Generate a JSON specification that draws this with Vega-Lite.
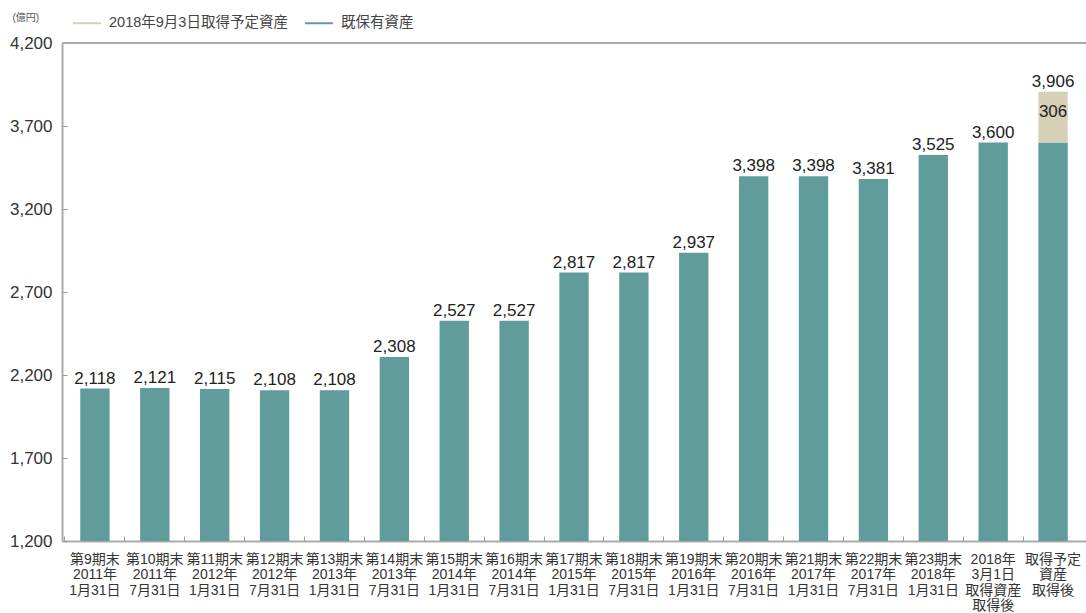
{
  "$schema": "https://vega.github.io/schema/vega-lite/v6.json",
  "width": 1024,
  "height": 498,
  "autosize": {"type": "none"},
  "padding": {"left": 62, "top": 43, "right": 0, "bottom": 72},
  "background": "white",
  "config": {
    "view": {"stroke": null},
    "font": "Liberation Sans, Noto Sans CJK JP",
    "text": {"font": "Liberation Sans, Noto Sans CJK JP"}
  },
  "data": {
    "values": [
      {"cat": "第9期末|2011年|1月31日", "series": "既保有資産", "value": 2118},
      {"cat": "第10期末|2011年|7月31日", "series": "既保有資産", "value": 2121},
      {"cat": "第11期末|2012年|1月31日", "series": "既保有資産", "value": 2115},
      {"cat": "第12期末|2012年|7月31日", "series": "既保有資産", "value": 2108},
      {"cat": "第13期末|2013年|1月31日", "series": "既保有資産", "value": 2108},
      {"cat": "第14期末|2013年|7月31日", "series": "既保有資産", "value": 2308},
      {"cat": "第15期末|2014年|1月31日", "series": "既保有資産", "value": 2527},
      {"cat": "第16期末|2014年|7月31日", "series": "既保有資産", "value": 2527},
      {"cat": "第17期末|2015年|1月31日", "series": "既保有資産", "value": 2817},
      {"cat": "第18期末|2015年|7月31日", "series": "既保有資産", "value": 2817},
      {"cat": "第19期末|2016年|1月31日", "series": "既保有資産", "value": 2937},
      {"cat": "第20期末|2016年|7月31日", "series": "既保有資産", "value": 3398},
      {"cat": "第21期末|2017年|1月31日", "series": "既保有資産", "value": 3398},
      {"cat": "第22期末|2017年|7月31日", "series": "既保有資産", "value": 3381},
      {"cat": "第23期末|2018年|1月31日", "series": "既保有資産", "value": 3525},
      {"cat": "2018年|3月1日|取得資産|取得後", "series": "既保有資産", "value": 3600},
      {"cat": "取得予定|資産|取得後", "series": "既保有資産", "value": 3600},
      {"cat": "取得予定|資産|取得後", "series": "2018年9月3日取得予定資産", "value": 306}
    ]
  },
  "encoding": {
    "x": {
      "field": "cat",
      "type": "nominal",
      "sort": null,
      "scale": {"paddingInner": 0, "paddingOuter": 0.05},
      "axis": {
        "title": null,
        "labelAngle": 0,
        "labelExpr": "split(datum.label, '|')",
        "labelFont": "Liberation Sans Narrow, Liberation Sans, Noto Sans CJK JP",
        "labelFontSize": 14,
        "labelLineHeight": 15.5,
        "labelColor": "#333",
        "labelPadding": 16,
        "labelBaseline": "top",
        "bandPosition": 0,
        "tickSize": -5,
        "tickColor": "#999",
        "domainColor": "#aaa",
        "domainWidth": 2
      }
    }
  },
  "layer": [
    {
      "mark": {"type": "bar", "width": {"band": 0.49}},
      "encoding": {
        "y": {
          "field": "value",
          "type": "quantitative",
          "stack": "zero",
          "scale": {"domain": [1200, 4200], "nice": false, "zero": false, "clamp": true},
          "axis": {
            "values": [1200, 1700, 2200, 2700, 3200, 3700, 4200],
            "labelExpr": "format(datum.value, ',')",
            "title": "(億円)",
            "titleAngle": 0,
            "titleX": -50,
            "titleY": -26,
            "titleAlign": "left",
            "titleBaseline": "middle",
            "titleFontSize": 10,
            "titleFontWeight": "normal",
            "titleColor": "#555",
            "labelFontSize": 17,
            "labelColor": "#333",
            "labelPadding": 15,
            "tickSize": -5,
            "tickColor": "#999",
            "domainColor": "#aaa",
            "domainWidth": 2,
            "grid": false
          }
        },
        "color": {
          "field": "series",
          "type": "nominal",
          "scale": {"domain": ["2018年9月3日取得予定資産", "既保有資産"], "range": ["#d6d0b6", "#5f9c9b"]},
          "legend": {
            "title": null,
            "orient": "none",
            "direction": "horizontal",
            "legendX": 10,
            "legendY": -35,
            "symbolType": "M-1,-0.07H1V0.07H-1Z",
            "symbolSize": 800,
            "labelFontSize": 14.5,
            "labelColor": "#444",
            "labelLimit": 400,
            "columnPadding": 16,
            "labelOffset": 7
          }
        },
        "order": {"field": "series", "sort": "descending"}
      }
    },
    {
      "transform": [{"aggregate": [{"op": "sum", "field": "value", "as": "total"}], "groupby": ["cat"]}],
      "mark": {"type": "text", "fontSize": 17, "color": "#222", "baseline": "alphabetic", "dy": -5},
      "encoding": {
        "y": {"field": "total", "type": "quantitative"},
        "text": {"field": "total", "type": "quantitative", "format": ","}
      }
    },
    {
      "transform": [
        {"joinaggregate": [{"op": "sum", "field": "value", "as": "total"}], "groupby": ["cat"]},
        {"filter": "datum.series === '2018年9月3日取得予定資産'"}
      ],
      "mark": {"type": "text", "fontSize": 17, "color": "#222", "baseline": "top", "dy": 12},
      "encoding": {
        "y": {"field": "total", "type": "quantitative"},
        "text": {"field": "value", "type": "quantitative", "format": ","}
      }
    },
    {
      "mark": {"type": "rule", "color": "#aaa", "strokeWidth": 2},
      "encoding": {"y": {"datum": 4200}, "x": null}
    }
  ]
}
